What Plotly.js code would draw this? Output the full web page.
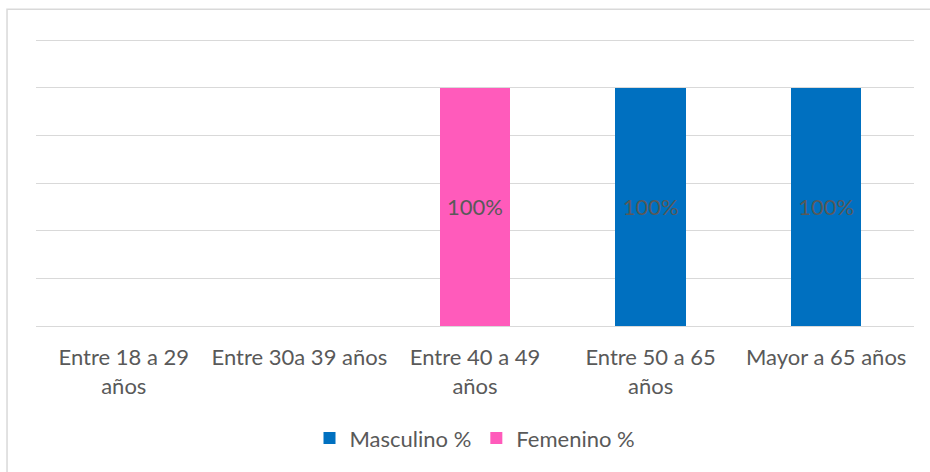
<!DOCTYPE html>
<html>
<head>
<meta charset="utf-8">
<script src="https://cdn.plot.ly/plotly-3.0.1.min.js"></script>
<style>html,body{margin:0;padding:0;background:#fff;}#chart{width:930px;height:472px;}</style>
</head>
<body>
<div id="chart"></div>
<script>
const categories = ["Entre 18 a 29<br>años", "Entre 30a 39 años", "Entre 40 a 49<br>años", "Entre 50 a 65<br>años", "Mayor a 65 años"];
const masculino = [null, null, null, 1.0, 1.0];
const femenino = [null, null, 1.0, null, null];
const seriesNames = ["Masculino %", "Femenino %"];
const yTickVals = [0, 0.2, 0.4, 0.6, 0.8, 1.0, 1.2];

const FONT = "Lato, 'Open Sans', sans-serif";
const common = {
  type: 'bar', x: categories, width: 0.4,
  texttemplate: '%{y:.0%}', textposition: 'inside', insidetextanchor: 'middle',
  textangle: 0, constraintext: 'none',
  textfont: {family: FONT, size: 22, color: '#595959'},
  insidetextfont: {family: FONT, size: 22, color: '#595959'},
  hoverinfo: 'none'
};
const traces = [
  Object.assign({}, common, {name: seriesNames[0], y: masculino, marker: {color: '#0070C0'}}),
  Object.assign({}, common, {name: seriesNames[1], y: femenino, marker: {color: '#FF5BBB'}})
];
const layout = {
  width: 930, height: 472,
  margin: {l: 36, r: 16, t: 38, b: 144},
  paper_bgcolor: '#ffffff', plot_bgcolor: '#ffffff',
  barmode: 'stack',
  showlegend: true,
  legend: {orientation: 'h', x: 0.5, xanchor: 'center', y: -0.39, yanchor: 'middle',
           traceorder: 'normal', font: {family: FONT, size: 22, color: '#595959'}},
  xaxis: {showgrid: false, zeroline: false, showline: true, linecolor: '#d9d9d9', linewidth: 1,
          ticks: '', ticklabelstandoff: 12, tickfont: {family: FONT, size: 22, color: '#595959'}, fixedrange: true},
  yaxis: {range: [0, 1.21], tickvals: yTickVals, showticklabels: false, showgrid: true,
          gridcolor: '#d9d9d9', gridwidth: 1, zeroline: false, showline: false, fixedrange: true},
  shapes: [{type: 'rect', xref: 'paper', yref: 'paper', x0: -0.033, x1: 1.2, y0: -1, y1: 1.1,
            line: {color: '#d9d9d9', width: 1.5}, fillcolor: 'rgba(0,0,0,0)', layer: 'below'}]
};
Plotly.newPlot('chart', traces, layout, {displayModeBar: false, staticPlot: true});
</script>
</body>
</html>
